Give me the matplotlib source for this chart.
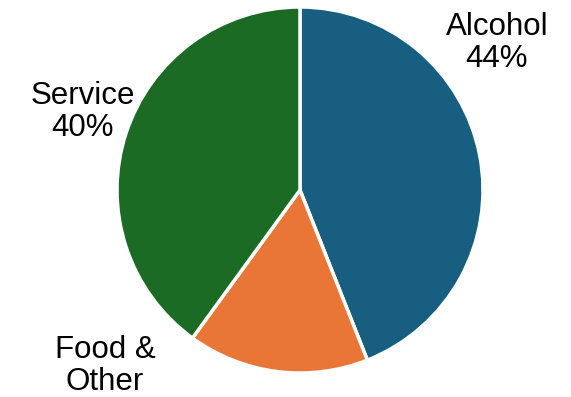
import matplotlib
matplotlib.use("Agg")
import matplotlib.pyplot as plt

categories = ["Alcohol", "Food & Other", "Service"]
values = [44, 16, 40]
labels = ["Alcohol\n44%", "Food &\nOther", "Service\n40%"]
colors = ["#175E80", "#E97636", "#1B6B24"]

plt.rcParams['font.family'] = ['Liberation Sans', 'DejaVu Sans']

fig = plt.figure(figsize=(5.71, 3.97), dpi=100)
ax = fig.add_axes([0, 0, 1, 1])
ax.set_xlim(0, 571)
ax.set_ylim(0, 397)
ax.set_aspect('equal')
ax.axis('off')

ax.pie(values, colors=colors, startangle=90, counterclock=False,
       center=(300, 207), radius=183,
       wedgeprops=dict(edgecolor='white', linewidth=2.5))
ax.set_xlim(0, 571)
ax.set_ylim(0, 397)

label_pos = [(497, 354), (105, 31), (83, 285)]
for lab, (x, y) in zip(labels, label_pos):
    ax.text(x, y, lab, ha='center', va='center', fontsize=22.5,
            linespacing=1.08, color='black')

fig.savefig("out.png", dpi=100)
